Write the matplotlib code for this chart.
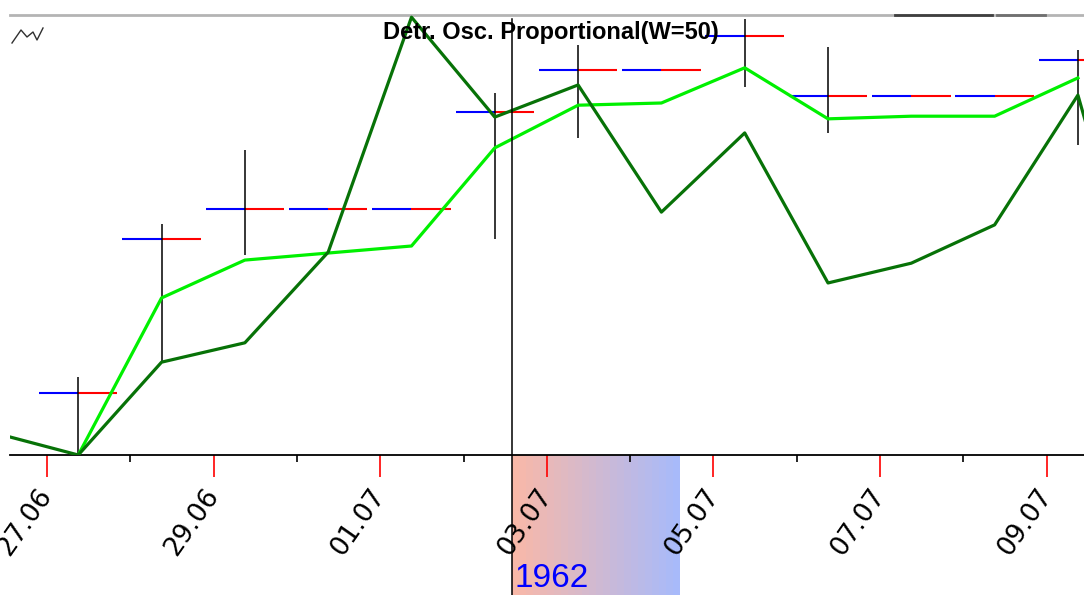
import numpy as np
import pandas as pd
import matplotlib
matplotlib.use("Agg")
import matplotlib.pyplot as plt
import matplotlib.dates as mdates
from matplotlib.lines import Line2D


# --------------------------------
# Data
# --------------------------------

dates = pd.date_range("1962-06-26 09:00", periods=15, freq="D")

# dark green: detrended oscillator
osc = [0.05, 0.00, 0.211, 0.255, 0.461, 0.995, 0.768, 0.841, 0.552,
       0.732, 0.391, 0.436, 0.523, 0.818, 0.15]

# light green: smoothed line (starts at second point, ends at 14th)
smooth = [np.nan, 0.00, 0.357, 0.443, 0.459, 0.475, 0.698, 0.795, 0.800,
          0.880, 0.764, 0.770, 0.770, 0.857, np.nan]

# level dashes (blue left half, red right half)
level = [np.nan, 0.141, 0.491, 0.559, 0.559, 0.559, 0.780, 0.875, 0.875,
         0.952, 0.816, 0.816, 0.816, 0.898, np.nan]

# vertical range bars
range_lo = [np.nan, 0.000, 0.211, 0.455, np.nan, np.nan, 0.491, 0.720, np.nan,
            0.836, 0.732, np.nan, np.nan, 0.705, np.nan]
range_hi = [np.nan, 0.177, 0.525, 0.693, np.nan, np.nan, 0.823, 0.932, np.nan,
            0.991, 0.927, np.nan, np.nan, 0.920, np.nan]

title = "Detr. Osc. Proportional(W=50)"
year_label = "1962"
x_start = pd.Timestamp("1962-06-26 13:20")
x_end = pd.Timestamp("1962-07-09 10:45")
cursor = pd.Timestamp("1962-07-02 13:58")
band_end = pd.Timestamp("1962-07-04 14:25")


# --------------------------------
# Figure
# --------------------------------

fig = plt.figure(figsize=(10.84, 5.95), dpi=100)
ax = fig.add_axes([10 / 1084, 140 / 595, 1074 / 1084, 440 / 595])

half = pd.Timedelta(hours=11.3)
ax.hlines(level, dates - half, dates, color="#0000ff", lw=1.5, zorder=2)
ax.hlines(level, dates, dates + half, color="#ff0000", lw=1.5, zorder=2)
ax.vlines(dates, range_lo, range_hi, color="black", lw=1.1, zorder=2)

ax.plot(dates, smooth, color="#00f000", lw=2.3, zorder=3)
ax.plot(dates, osc, color="#077207", lw=2.3, zorder=4)

ax.set_xlim(x_start, x_end)
ax.set_ylim(0, 1)

# spines
for side in ("left", "right"):
    ax.spines[side].set_visible(False)
ax.spines["top"].set_color("#b4b4b4")
ax.spines["top"].set_linewidth(2)
ax.spines["bottom"].set_color("black")
ax.spines["bottom"].set_linewidth(1.3)
ax.set_yticks([])

# date ticks
ax.xaxis.set_major_locator(mdates.DayLocator(interval=2))
ax.xaxis.set_minor_locator(mdates.DayLocator(bymonthday=range(2, 32, 2)))
ax.xaxis.set_major_formatter(mdates.DateFormatter("%d.%m"))
ax.xaxis.set_minor_formatter(plt.NullFormatter())
ax.tick_params(axis="x", which="major", length=16, width=1.2, color="#ff0000",
               pad=10, labelsize=19)
ax.tick_params(axis="x", which="minor", length=5, width=1.2, color="black")
for lbl in ax.get_xticklabels():
    lbl.set_rotation(55)
    lbl.set_rotation_mode("anchor")
    lbl.set_ha("right")
    lbl.set_va("center")
    lbl.set_fontfamily("DejaVu Sans")

# gradient band below the axis, right of the cursor
c0 = np.array([248, 184, 168]) / 255
c1 = np.array([168, 186, 250]) / 255
edges = pd.date_range(cursor, band_end, periods=25)
for i in range(len(edges) - 1):
    t = i / (len(edges) - 2)
    ax.axvspan(edges[i], edges[i + 1], ymin=-0.32, ymax=0, color=c0 + (c1 - c0) * t,
               lw=0, clip_on=False, zorder=0)

# cursor line
ax.axvline(cursor, ymin=-0.32, ymax=0.99, color="black", lw=1.1, clip_on=False, zorder=5)

ax.text(cursor + pd.Timedelta(minutes=40), -0.316, year_label,
        transform=ax.get_xaxis_transform(),
        color="#0000ff", fontsize=24, fontfamily=["Liberation Sans", "DejaVu Sans"],
        ha="left", va="bottom")

ax.text(0.5037, 0.961, title, transform=ax.transAxes, ha="center", va="center",
        fontsize=17, fontweight="bold",
        fontfamily=["Liberation Sans Narrow", "Liberation Sans", "DejaVu Sans"], zorder=6)

# scrollbar-like dark segment on the top border
fig.add_artist(Line2D([895 / 1084, 992 / 1084], [580 / 595, 580 / 595], color="#404040", lw=2))
fig.add_artist(Line2D([997 / 1084, 1045 / 1084], [580 / 595, 580 / 595], color="#707070", lw=2))

# small zig-zag icon in the top-left corner
icon_x = [12, 21, 27, 33, 37, 43]
icon_y = [43, 30, 37, 32, 40, 28]
fig.add_artist(Line2D([v / 1084 for v in icon_x], [1 - v / 595 for v in icon_y],
                      color="#303030", lw=1))

fig.savefig("out.png", dpi=100)
